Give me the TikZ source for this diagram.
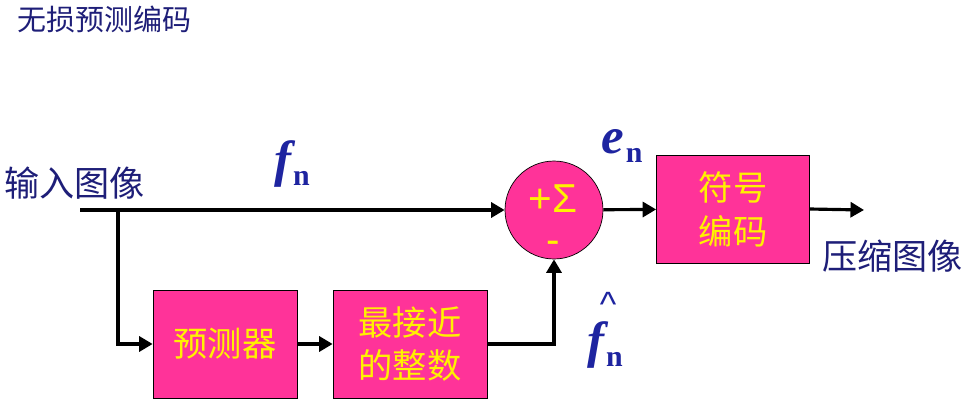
\documentclass[tikz,border=0pt]{standalone}
\usepackage{fontspec}
\setmainfont{Liberation Serif}
\newfontfamily\cjk{Noto Sans CJK SC}
\newfontfamily\sansf{Liberation Sans}
\usetikzlibrary{arrows.meta}
\definecolor{boxpink}{HTML}{FF3399}
\definecolor{navytext}{HTML}{1E1E78}
\definecolor{symblue}{HTML}{1E24A0}
\newcommand{\subn}{\kern1pt\raisebox{-5pt}{\upshape\fontsize{17}{17}\selectfont n}}
\begin{document}
\begin{tikzpicture}
[x=0.02cm, y=-0.02cm, line join=miter, >={Triangle[length=0.27cm,width=0.3cm]},
 block/.style={draw=black, fill=boxpink, text=yellow, font=\cjk\fontsize{19.5}{25}\selectfont,
   align=center, minimum height=2.16cm, inner sep=0pt},
 wire/.style={line width=1.8pt},
 sym/.style={text=symblue, font=\bfseries\itshape\fontsize{29}{29}\selectfont, inner sep=0pt},
 word/.style={text=navytext, anchor=west, inner sep=0pt}]
\useasboundingbox (0,0) rectangle (975,410);
\node[word, font=\cjk\fontsize{16.5}{16.5}\selectfont] (title) at (17,19) {无损预测编码};
\node[word, font=\cjk\fontsize{20}{20}\selectfont] (input) at (4,183) {输入图像};
\node[word, font=\cjk\fontsize{20}{20}\selectfont] (output) at (822,256) {压缩图像};
% blocks
\node[circle, draw=black, fill=boxpink, text=yellow, font=\sansf\fontsize{23}{23}\selectfont,
  align=center, minimum size=1.96cm, inner sep=0pt] (sum) at (554,210) {};
\node[text=yellow, font=\sansf\fontsize{23}{23}\selectfont, align=center, inner sep=0pt]
  (signs) at (553,219) {+Σ\\-};
\node[block, minimum width=3.06cm] (code) at (733,209) {符号\\编码};
\node[block, minimum width=2.88cm] (pred) at (225,344) {预测器};
\node[block, minimum width=3.08cm] (round) at (410,344) {最接近\\的整数};
% signals
\node[sym] (fn) at (292,164) {f\subn};
\node[sym] (en) at (622,146) {e\subn};
\node[sym] (fhat) at (605,345) {f\subn};
\node[text=symblue, font=\sansf\fontsize{20}{20}\selectfont, inner sep=0pt] (hat) at (608,304) {\^{}};
\coordinate (start) at (80,210);
\coordinate (split) at (118,210);
\coordinate (out) at (864,210);
\draw[wire,->] (start) -- (sum.west);
\draw[wire,->] (split) |- (pred.west);
\draw[wire,->] (pred) -- (round);
\draw[wire,->] (round.east) -| (sum.south);
\draw[wire,->] (sum) -- (code);
\draw[wire,->] (code.east) -- (out);
\end{tikzpicture}
\end{document}
